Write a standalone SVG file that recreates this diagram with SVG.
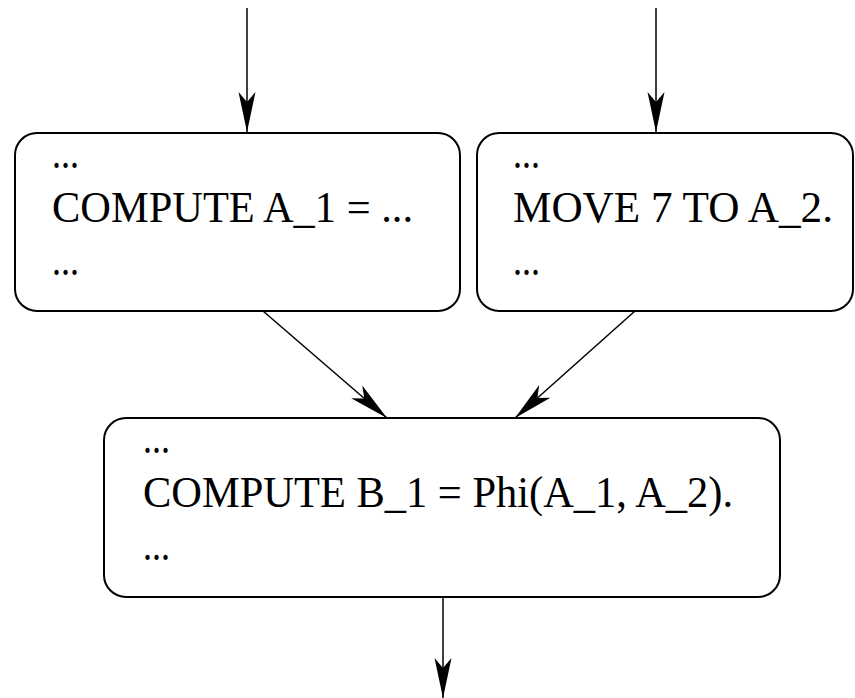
<svg xmlns="http://www.w3.org/2000/svg" width="855" height="698" viewBox="0 0 855 698">
<style>
.box{fill:#fff;stroke:#000;stroke-width:2}
.t{font-family:"Liberation Serif","Times New Roman",serif;font-size:45px;fill:#000}
.c{stroke:#000;stroke-width:1.5;fill:none;marker-end:url(#ah)}
</style>
<defs>
<marker id="ah" markerUnits="userSpaceOnUse" viewBox="0 -9 40 18" markerWidth="40" markerHeight="18" refX="40" refY="0" orient="auto">
<path d="M40,0 L0,-8.5 L10,0 L0,8.5 Z" fill="#000"/>
</marker>
</defs>
<g id="connectors">
<path class="c" d="M247,8 L247,132"/>
<path class="c" d="M656,8 L656,132"/>
<path class="c" d="M263,311 L387,418"/>
<path class="c" d="M635,311 L515,418"/>
<path class="c" d="M443,597 L443,698"/>
</g>
<g id="node1">
<rect class="box" x="15" y="133" width="445" height="178" rx="22" ry="22"/>
<text class="t" x="52" y="168" textLength="27" lengthAdjust="spacingAndGlyphs">...</text>
<text class="t" x="52" y="222" textLength="361" lengthAdjust="spacingAndGlyphs">COMPUTE A_1 = ...</text>
<text class="t" x="52" y="275" textLength="27" lengthAdjust="spacingAndGlyphs">...</text>
</g>
<g id="node2">
<rect class="box" x="477" y="133" width="376" height="178" rx="22" ry="22"/>
<text class="t" x="513" y="168" textLength="27" lengthAdjust="spacingAndGlyphs">...</text>
<text class="t" x="513" y="222" textLength="320" lengthAdjust="spacingAndGlyphs">MOVE 7 TO A_2.</text>
<text class="t" x="513" y="275" textLength="27" lengthAdjust="spacingAndGlyphs">...</text>
</g>
<g id="node3">
<rect class="box" x="104" y="418" width="676" height="179" rx="22" ry="22"/>
<text class="t" x="143" y="453" textLength="27" lengthAdjust="spacingAndGlyphs">...</text>
<text class="t" x="143" y="507" textLength="590" lengthAdjust="spacingAndGlyphs">COMPUTE B_1 = Phi(A_1, A_2).</text>
<text class="t" x="143" y="560" textLength="27" lengthAdjust="spacingAndGlyphs">...</text>
</g>
</svg>
